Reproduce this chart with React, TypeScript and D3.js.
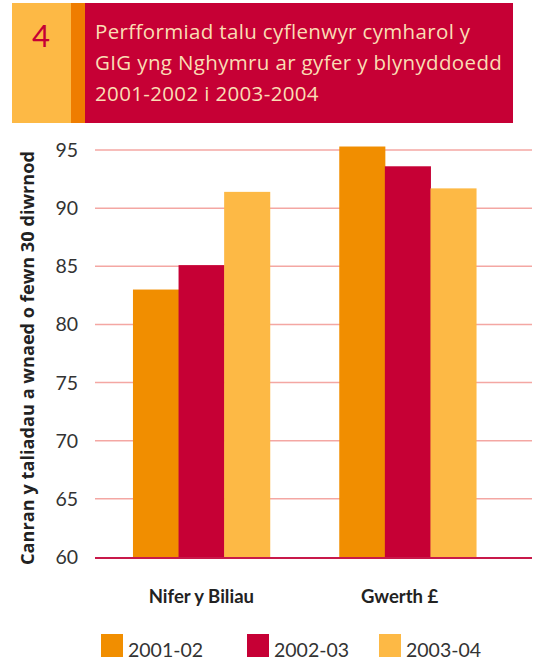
import React from 'react';
import * as d3 from 'd3';

const categories = ['Nifer y Biliau', 'Gwerth £'];
const seriesNames = ['2001-02', '2002-03', '2003-04'];
const values2001 = [83.0, 95.3];
const values2002 = [85.1, 93.6];
const values2003 = [91.4, 91.7];
const yTicks = [60, 65, 70, 75, 80, 85, 90, 95];
const titleLines = [
  'Perfformiad talu cyflenwyr cymharol y',
  'GIG yng Nghymru ar gyfer y blynyddoedd',
  '2001-2002 i 2003-2004',
];
const figureNumber = '4';
const yTitle = 'Canran y taliadau a wnaed o fewn 30 diwrnod';

const colors = ['#F18E00', '#C60035', '#FDB945'];
const font = "Lato, 'Open Sans', sans-serif";
const wideFont = "'Open Sans', Lato, sans-serif";

export default function App() {
  const W = 545;
  const H = 663;
  const plotLeft = 95;
  const plotRight = 532;
  const seriesValues = [values2001, values2002, values2003];

  const y = d3.scaleLinear().domain([60, 95]).range([557, 150]);
  const x0 = d3.scaleBand<string>()
    .domain(categories)
    .range([plotLeft, 514])
    .paddingInner(0.337)
    .paddingOuter(0.184);
  const x1 = d3.scaleBand<string>()
    .domain(seriesNames)
    .range([0, x0.bandwidth()]);

  const legendX = [101, 247, 379];

  return (
    <svg width={W} height={H} style={{ position: 'absolute', left: 0, top: 0 }}>
      {/* header */}
      <rect x={12} y={3} width={59} height={120} fill="#FDB945" />
      <rect x={71} y={3} width={14} height={120} fill="#EF7D00" />
      <rect x={85} y={3} width={428} height={120} fill="#C60035" />
      <text x={41} y={47} textAnchor="middle" fontFamily={font} fontSize={31} fill="#C60035">
        {figureNumber}
      </text>
      {titleLines.map((t, i) => (
        <text key={i} x={95} y={39 + i * 31} fontFamily={wideFont} fontSize={20.5}
          letterSpacing={0.35} fill="#FADDB4">
          {t}
        </text>
      ))}

      {/* grid */}
      {yTicks.filter(t => t > 60).map(t => (
        <line key={t} x1={plotLeft} x2={plotRight} y1={y(t)} y2={y(t)} stroke="#F4A7A3" strokeWidth={1.5} />
      ))}
      {yTicks.map(t => (
        <text key={t} x={78} y={y(t) + 7} textAnchor="end" fontFamily={font} fontSize={19.5} fill="#333">
          {t}
        </text>
      ))}

      {/* bars */}
      {categories.map((c, ci) => (
        <g key={c} transform={`translate(${x0(c)},0)`}>
          {seriesNames.map((s, si) => (
            <rect
              key={s}
              x={x1(s)}
              y={y(seriesValues[si][ci])}
              width={x1.bandwidth() + 0.5}
              height={y(60) - y(seriesValues[si][ci])}
              fill={colors[si]}
            />
          ))}
        </g>
      ))}
      <line x1={plotLeft} x2={plotRight} y1={y(60) + 1} y2={y(60) + 1} stroke="#C8194A" strokeWidth={2} />

      {/* category labels */}
      {categories.map(c => (
        <text key={c} x={(x0(c) ?? 0) + x0.bandwidth() / 2 - (c === 'Gwerth £' ? 8 : 0)} y={603} textAnchor="middle"
          fontFamily={font} fontWeight="bold" fontSize={18.5} fill="#222">
          {c}
        </text>
      ))}

      {/* y title */}
      <text transform="translate(34,358) rotate(-90)" textAnchor="middle" fontFamily={wideFont}
        fontWeight="bold" fontSize={18.2} fill="#222">
        {yTitle}
      </text>

      {/* legend */}
      {seriesNames.map((s, i) => (
        <g key={s} transform={`translate(${legendX[i]},634)`}>
          <rect width={22} height={23} fill={colors[i]} />
          <text x={27} y={23} fontFamily={font} fontSize={19.5} fill="#333">{s}</text>
        </g>
      ))}
    </svg>
  );
}
